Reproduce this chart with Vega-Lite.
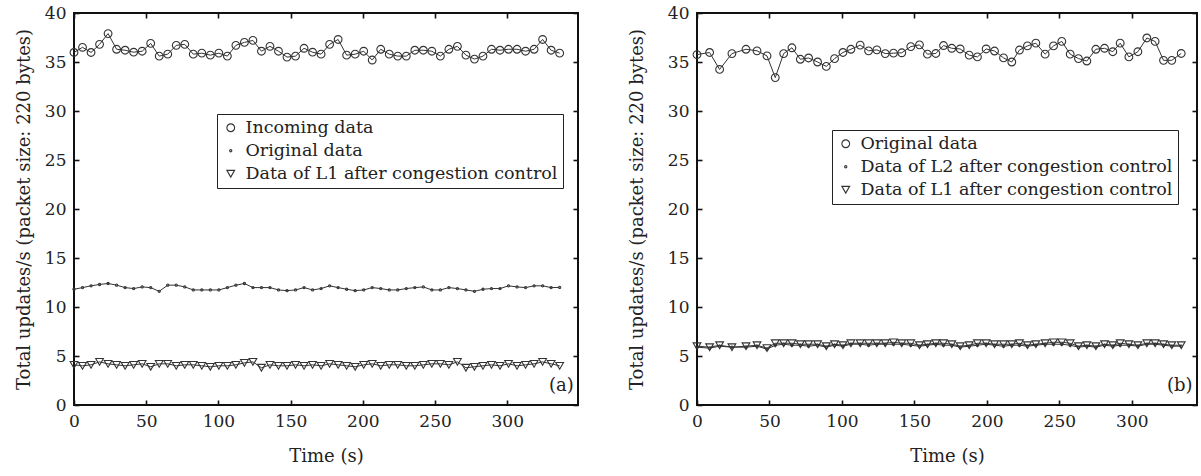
{
  "$schema": "https://vega.github.io/schema/vega-lite/v6.json",
  "background": "white",
  "padding": {"left": 14, "top": 3, "right": 0, "bottom": 0},
  "spacing": 47,
  "config": {
    "font": "DejaVu Serif",
    "view": {"stroke": "#111", "strokeWidth": 2},
    "axis": {
      "grid": false, "domain": false,
      "tickColor": "#111", "tickWidth": 1.6, "tickSize": -5,
      "labelPadding": 13, "labelFont": "DejaVu Serif", "labelFontSize": 17, "labelColor": "#222",
      "labelFlush": false, "labelOverlap": false,
      "titleFont": "DejaVu Serif", "titleFontSize": 18, "titleFontWeight": "normal", "titleColor": "#222"
    },
    "legend": {
      "orient": "none", "title": null, "strokeColor": "#222", "fillColor": "white", "padding": 5,
      "rowPadding": 4, "labelOffset": 6, "labelLimit": 0, "labelFont": "DejaVu Serif", "labelFontSize": 17.5,
      "labelColor": "#222", "symbolStrokeColor": "#333", "symbolStrokeWidth": 1.1, "symbolFillColor": "transparent"
    }
  },
  "resolve": {"scale": {"shape": "independent", "size": "independent"}, "legend": {"shape": "independent", "size": "independent"}},
  "datasets": {
    "left": [
      {"t":0,"incoming":35.97,"original":11.81,"l1":4.1},
      {"t":5.9,"incoming":36.5,"original":11.98,"l1":4.0},
      {"t":11.8,"incoming":35.97,"original":12.16,"l1":4.1},
      {"t":17.7,"incoming":36.8,"original":12.3,"l1":4.4},
      {"t":23.6,"incoming":37.9,"original":12.4,"l1":4.2},
      {"t":29.5,"incoming":36.3,"original":12.23,"l1":4.1},
      {"t":35.4,"incoming":36.2,"original":11.98,"l1":4.0},
      {"t":41.3,"incoming":36.0,"original":11.88,"l1":4.1},
      {"t":47.2,"incoming":36.1,"original":12.05,"l1":4.2},
      {"t":53.1,"incoming":36.9,"original":11.98,"l1":3.9},
      {"t":59,"incoming":35.6,"original":11.6,"l1":4.2},
      {"t":64.9,"incoming":35.8,"original":12.23,"l1":4.2},
      {"t":70.8,"incoming":36.7,"original":12.23,"l1":4.0},
      {"t":76.7,"incoming":36.8,"original":12.05,"l1":4.1},
      {"t":82.6,"incoming":35.8,"original":11.74,"l1":4.1},
      {"t":88.5,"incoming":35.9,"original":11.74,"l1":4.0},
      {"t":94.4,"incoming":35.7,"original":11.74,"l1":3.9},
      {"t":100.3,"incoming":35.9,"original":11.74,"l1":4.0},
      {"t":106.2,"incoming":35.6,"original":11.98,"l1":4.0},
      {"t":112.1,"incoming":36.7,"original":12.23,"l1":4.1},
      {"t":118,"incoming":37.0,"original":12.4,"l1":4.3},
      {"t":123.9,"incoming":37.2,"original":11.98,"l1":4.4},
      {"t":129.8,"incoming":36.1,"original":11.98,"l1":3.8},
      {"t":135.7,"incoming":36.6,"original":11.98,"l1":4.1},
      {"t":141.6,"incoming":36.1,"original":11.74,"l1":4.0},
      {"t":147.5,"incoming":35.5,"original":11.67,"l1":4.0},
      {"t":153.4,"incoming":35.6,"original":11.74,"l1":4.1},
      {"t":159.3,"incoming":36.4,"original":11.98,"l1":4.0},
      {"t":165.2,"incoming":36.0,"original":11.74,"l1":4.1},
      {"t":171.1,"incoming":35.8,"original":11.88,"l1":4.0},
      {"t":177,"incoming":36.8,"original":12.16,"l1":4.2},
      {"t":182.9,"incoming":37.3,"original":11.98,"l1":4.1},
      {"t":188.8,"incoming":35.7,"original":11.81,"l1":4.0},
      {"t":194.7,"incoming":35.8,"original":11.67,"l1":3.9},
      {"t":200.6,"incoming":36.1,"original":11.74,"l1":4.1},
      {"t":206.5,"incoming":35.2,"original":11.98,"l1":4.2},
      {"t":212.4,"incoming":36.3,"original":11.88,"l1":4.0},
      {"t":218.3,"incoming":35.8,"original":11.74,"l1":4.1},
      {"t":224.2,"incoming":35.6,"original":11.74,"l1":4.1},
      {"t":230.1,"incoming":35.6,"original":11.88,"l1":4.0},
      {"t":236,"incoming":36.2,"original":11.98,"l1":4.0},
      {"t":241.9,"incoming":36.2,"original":12.05,"l1":4.1},
      {"t":247.8,"incoming":36.1,"original":11.74,"l1":4.2},
      {"t":253.7,"incoming":35.6,"original":11.74,"l1":4.2},
      {"t":259.6,"incoming":36.3,"original":11.98,"l1":4.1},
      {"t":265.5,"incoming":36.6,"original":11.88,"l1":4.4},
      {"t":271.4,"incoming":35.7,"original":11.74,"l1":3.8},
      {"t":277.3,"incoming":35.3,"original":11.6,"l1":3.9},
      {"t":283.2,"incoming":35.6,"original":11.81,"l1":4.0},
      {"t":289.1,"incoming":36.3,"original":11.88,"l1":4.1},
      {"t":295,"incoming":36.2,"original":11.88,"l1":4.0},
      {"t":300.9,"incoming":36.3,"original":12.16,"l1":4.2},
      {"t":306.8,"incoming":36.3,"original":12.05,"l1":4.0},
      {"t":312.7,"incoming":36.1,"original":11.98,"l1":4.1},
      {"t":318.6,"incoming":36.3,"original":12.16,"l1":4.2},
      {"t":324.5,"incoming":37.3,"original":12.16,"l1":4.4},
      {"t":330.4,"incoming":36.2,"original":11.98,"l1":4.2},
      {"t":336.3,"incoming":35.9,"original":12.0,"l1":4.0}
    ],
    "right": [
      {"t":0,"original":35.76,"l2":5.9,"l1":6.0},
      {"t":8.7,"original":35.97,"l2":5.8,"l1":5.9},
      {"t":15.6,"original":34.24,"l2":6.0,"l1":6.1},
      {"t":24.1,"original":35.86,"l2":5.9,"l1":5.9},
      {"t":33.8,"original":36.3,"l2":5.9,"l1":6.0},
      {"t":41.4,"original":36.14,"l2":6.0,"l1":6.1},
      {"t":48.3,"original":35.62,"l2":5.7,"l1":5.8},
      {"t":54.0,"original":33.41,"l2":6.1,"l1":6.3},
      {"t":59.8,"original":35.86,"l2":6.2,"l1":6.3},
      {"t":65.5,"original":36.45,"l2":6.1,"l1":6.3},
      {"t":71.3,"original":35.28,"l2":6.1,"l1":6.2},
      {"t":77.0,"original":35.41,"l2":6.0,"l1":6.2},
      {"t":83.2,"original":35.0,"l2":6.1,"l1":6.2},
      {"t":89.2,"original":34.55,"l2":5.9,"l1":6.0},
      {"t":94.9,"original":35.34,"l2":6.1,"l1":6.2},
      {"t":100.7,"original":35.97,"l2":6.0,"l1":6.1},
      {"t":106.2,"original":36.3,"l2":6.2,"l1":6.3},
      {"t":112.6,"original":36.72,"l2":6.2,"l1":6.3},
      {"t":118.4,"original":36.14,"l2":6.1,"l1":6.3},
      {"t":124.1,"original":36.24,"l2":6.2,"l1":6.3},
      {"t":129.9,"original":35.86,"l2":6.2,"l1":6.3},
      {"t":135.6,"original":35.9,"l2":6.2,"l1":6.4},
      {"t":141.3,"original":35.94,"l2":6.2,"l1":6.3},
      {"t":147.5,"original":36.57,"l2":6.1,"l1":6.3},
      {"t":153.5,"original":36.75,"l2":6.0,"l1":6.1},
      {"t":159.0,"original":35.8,"l2":6.1,"l1":6.2},
      {"t":164.8,"original":35.87,"l2":6.2,"l1":6.3},
      {"t":170.1,"original":36.68,"l2":6.1,"l1":6.3},
      {"t":175.8,"original":36.4,"l2":6.1,"l1":6.2},
      {"t":181.6,"original":36.33,"l2":5.9,"l1":6.0},
      {"t":187.8,"original":35.7,"l2":6.0,"l1":6.1},
      {"t":193.5,"original":35.52,"l2":6.1,"l1":6.3},
      {"t":199.5,"original":36.33,"l2":6.2,"l1":6.3},
      {"t":205.3,"original":36.12,"l2":6.1,"l1":6.2},
      {"t":211.5,"original":35.42,"l2":6.0,"l1":6.2},
      {"t":217.2,"original":35.0,"l2":6.1,"l1":6.2},
      {"t":222.5,"original":36.22,"l2":6.1,"l1":6.3},
      {"t":228.0,"original":36.64,"l2":6.0,"l1":6.1},
      {"t":233.8,"original":36.92,"l2":6.1,"l1":6.2},
      {"t":240.2,"original":35.8,"l2":6.2,"l1":6.3},
      {"t":246.0,"original":36.64,"l2":6.2,"l1":6.4},
      {"t":251.7,"original":37.1,"l2":6.2,"l1":6.4},
      {"t":257.5,"original":35.8,"l2":6.1,"l1":6.3},
      {"t":263.2,"original":35.35,"l2":5.9,"l1":6.0},
      {"t":269.0,"original":35.1,"l2":6.0,"l1":6.1},
      {"t":275.2,"original":36.3,"l2":5.9,"l1":6.0},
      {"t":281.2,"original":36.4,"l2":6.1,"l1":6.2},
      {"t":286.9,"original":36.05,"l2":6.0,"l1":6.1},
      {"t":292.0,"original":36.92,"l2":6.1,"l1":6.3},
      {"t":298.0,"original":35.52,"l2":6.1,"l1":6.2},
      {"t":304.2,"original":36.05,"l2":6.0,"l1":6.1},
      {"t":310.4,"original":37.45,"l2":6.2,"l1":6.3},
      {"t":316.1,"original":37.1,"l2":6.2,"l1":6.3},
      {"t":321.9,"original":35.17,"l2":6.1,"l1":6.2},
      {"t":327.6,"original":35.17,"l2":6.0,"l1":6.1},
      {"t":334.1,"original":35.87,"l2":6.0,"l1":6.1}
    ]
  },
  "hconcat": [
    {
      "width": 504, "height": 392,
      "data": {"name": "left"},
      "transform": [{"fold": ["incoming", "original", "l1"], "as": ["series", "value"]}],
      "resolve": {"axis": {"x": "independent", "y": "independent"}},
      "layer": [
        {
          "mark": {"type": "line", "stroke": "#333", "strokeWidth": 1},
          "encoding": {
            "x": {"field": "t", "type": "quantitative", "scale": {"domain": [0, 349], "nice": false, "zero": false},
                  "axis": {"orient": "bottom", "values": [0, 50, 100, 150, 200, 250, 300], "title": "Time (s)", "titlePadding": 18}},
            "y": {"field": "value", "type": "quantitative", "scale": {"domain": [0, 40], "nice": false},
                  "axis": {"orient": "left", "values": [0, 5, 10, 15, 20, 25, 30, 35, 40], "title": "Total updates/s (packet size: 220 bytes)", "titlePadding": 11}},
            "detail": {"field": "series"}
          }
        },
        {
          "mark": {"type": "point", "filled": false, "color": "#333", "strokeWidth": 1.1, "opacity": 1},
          "encoding": {
            "x": {"field": "t", "type": "quantitative", "axis": {"orient": "top", "values": [0, 50, 100, 150, 200, 250, 300], "labels": false, "title": null}},
            "y": {"field": "value", "type": "quantitative", "axis": {"orient": "right", "values": [0, 5, 10, 15, 20, 25, 30, 35, 40], "labels": false, "title": null}},
            "shape": {"field": "series", "type": "nominal", "scale": {"domain": ["incoming", "original", "l1"], "range": ["circle", "circle", "triangle-down"]},
                      "legend": {"legendX": 143, "legendY": 101,
                                 "labelExpr": "{'incoming': 'Incoming data', 'original': 'Original data', 'l1': 'Data of L1 after congestion control'}[datum.label]"}},
            "size": {"field": "series", "type": "nominal", "scale": {"type": "ordinal", "domain": ["incoming", "original", "l1"], "range": [60, 5, 60]},
                     "legend": {"legendX": 143, "legendY": 101,
                                "labelExpr": "{'incoming': 'Incoming data', 'original': 'Original data', 'l1': 'Data of L1 after congestion control'}[datum.label]"}}
          }
        },
        {
          "data": {"values": [{"label": "(a)"}]},
          "mark": {"type": "text", "align": "right", "baseline": "bottom", "font": "DejaVu Serif", "fontSize": 18, "color": "#222"},
          "encoding": {
            "x": {"datum": 346, "type": "quantitative", "axis": null},
            "y": {"datum": 1, "type": "quantitative", "axis": null},
            "text": {"field": "label"}
          }
        }
      ]
    },
    {
      "width": 500, "height": 392,
      "data": {"name": "right"},
      "transform": [{"fold": ["original", "l2", "l1"], "as": ["series", "value"]}],
      "resolve": {"axis": {"x": "independent", "y": "independent"}},
      "layer": [
        {
          "mark": {"type": "line", "stroke": "#333", "strokeWidth": 1},
          "encoding": {
            "x": {"field": "t", "type": "quantitative", "scale": {"domain": [0, 345], "nice": false, "zero": false},
                  "axis": {"orient": "bottom", "values": [0, 50, 100, 150, 200, 250, 300], "title": "Time (s)", "titlePadding": 18}},
            "y": {"field": "value", "type": "quantitative", "scale": {"domain": [0, 40], "nice": false},
                  "axis": {"orient": "left", "values": [0, 5, 10, 15, 20, 25, 30, 35, 40], "title": "Total updates/s (packet size: 220 bytes)", "titlePadding": 21}},
            "detail": {"field": "series"}
          }
        },
        {
          "mark": {"type": "point", "filled": false, "color": "#333", "strokeWidth": 1.1, "opacity": 1},
          "encoding": {
            "x": {"field": "t", "type": "quantitative", "axis": {"orient": "top", "values": [0, 50, 100, 150, 200, 250, 300], "labels": false, "title": null}},
            "y": {"field": "value", "type": "quantitative", "axis": {"orient": "right", "values": [0, 5, 10, 15, 20, 25, 30, 35, 40], "labels": false, "title": null}},
            "shape": {"field": "series", "type": "nominal", "scale": {"domain": ["original", "l2", "l1"], "range": ["circle", "circle", "triangle-down"]},
                      "legend": {"legendX": 135, "legendY": 117,
                                 "labelExpr": "{'original': 'Original data', 'l2': 'Data of L2 after congestion control', 'l1': 'Data of L1 after congestion control'}[datum.label]"}},
            "size": {"field": "series", "type": "nominal", "scale": {"type": "ordinal", "domain": ["original", "l2", "l1"], "range": [60, 5, 60]},
                     "legend": {"legendX": 135, "legendY": 117,
                                "labelExpr": "{'original': 'Original data', 'l2': 'Data of L2 after congestion control', 'l1': 'Data of L1 after congestion control'}[datum.label]"}}
          }
        },
        {
          "data": {"values": [{"label": "(b)"}]},
          "mark": {"type": "text", "align": "right", "baseline": "bottom", "font": "DejaVu Serif", "fontSize": 18, "color": "#222"},
          "encoding": {
            "x": {"datum": 342, "type": "quantitative", "axis": null},
            "y": {"datum": 1, "type": "quantitative", "axis": null},
            "text": {"field": "label"}
          }
        }
      ]
    }
  ]
}
